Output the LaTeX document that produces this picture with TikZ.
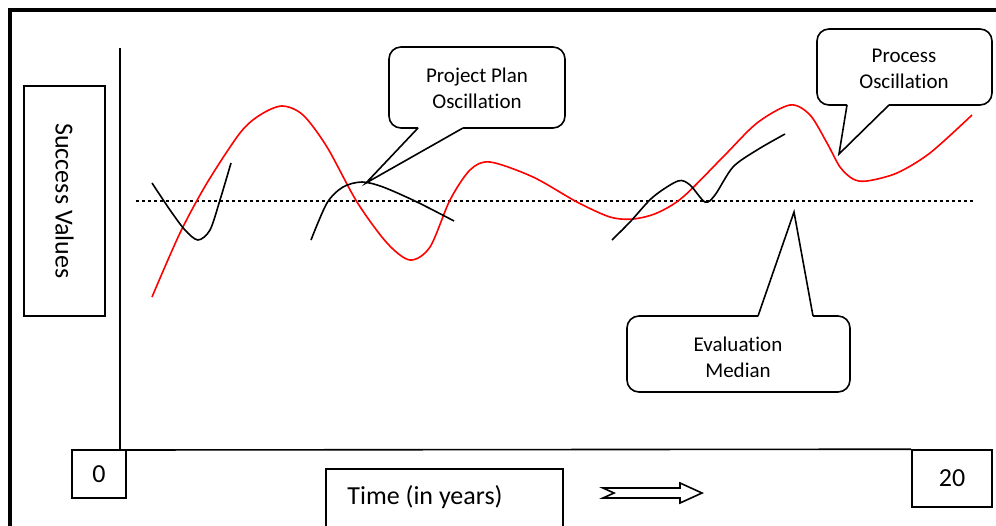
\documentclass[tikz,border=0pt]{standalone}
\usepackage{fontspec}
\setmainfont{Carlito}[Ligatures=NoCommon]
\begin{document}
\begin{tikzpicture}[x=1pt,y=-1pt,line join=miter,
  box/.style={draw,line width=1.6pt,inner sep=0pt,font=\fontsize{26}{31}\selectfont},
  calltext/.style={align=center,inner sep=0pt,font=\fontsize{21}{26}\selectfont},
  callline/.style={line width=1.6pt},
  wave/.style={line width=1.6pt,smooth,tension=0.5}]
\useasboundingbox (0,0) rectangle (996,525);
\clip (0,0) rectangle (996,525);
\draw[line width=4pt](10,545)--(10,10)--(1010,10);
% axes and labels
\node[box,rotate=-90,minimum width=230pt,minimum height=81pt] (succ) at (64.5,201) {Success Values};
\node[box,minimum width=54pt,minimum height=48pt] (n0) at (99,474) {0};
\node[box,minimum width=80pt,minimum height=57pt] (n20) at (952,478.5) {20};
\coordinate (ytop) at (120,48);
\coordinate (orig) at (120,450);
\draw[line width=1.6pt](ytop)--(orig)--(n20.north west);
\draw[line width=1.6pt](326,469) rectangle (563,545);
\node[font=\fontsize{26}{31}\selectfont] (time) at (425,497) {Time (in years)};
\draw[line width=1.6pt,fill=white](603,488)--(680,488)--(680,483)--(702,493)--(680,503)--(680,498)--(603,498)--(614,493)--cycle;
% median
\coordinate (medl) at (136,200.7);
\coordinate (medr) at (975,200.7);
\draw[line width=2pt,dash pattern=on 2.5pt off 3.5pt](medl)--(medr);
% red curve
\draw[wave,red] plot coordinates {(152,297) (180,233) (207,183) (240,133) (260,115) (282,106) (303,115) (327,147) (357,202) (387,243) (410,260) (430,247) (450,200) (470,170) (490,162) (533,177) (577,202) (610,217) (633,219) (657,213) (683,197) (723,157) (757,123) (790,105) (810,115) (827,143) (840,167) (853,179) (867,181) (897,173) (930,153) (972,115)};
% black curves
\draw[wave] plot coordinates {(152,183) (170,210) (185,230) (198,240) (210,230) (220,200) (231,163)};
\draw[wave] plot coordinates {(311,240) (327,203) (343,187) (362,182) (383,187) (417,202) (454,221)};
\draw[wave] plot coordinates {(612,240) (630,222) (653,197) (678,181) (690,185) (705,202) (715,195) (733,167) (757,150) (785,134)};
% callouts
\node[calltext] (plan) at (477,88) {Project Plan\\Oscillation};
\coordinate (plantip) at (366,183);
\draw[callline,rounded corners=12pt](418,128)--(389,128)--(389,47)--(565,47)--(565,128)--(463,128);
\draw[callline](463,128)--(plantip)--(418,128);
\node[calltext] (proc) at (904,69) {Process\\Oscillation};
\coordinate (proctip) at (839,154);
\draw[callline,rounded corners=12pt](847,105)--(817,105)--(817,29)--(992,29)--(992,105)--(889,105);
\draw[callline](889,105)--(proctip)--(847,105);
\node[calltext] (eval) at (738,357) {Evaluation\\Median};
\coordinate (evaltip) at (794,212);
\draw[callline,rounded corners=12pt](758,316)--(627,316)--(627,392)--(850,392)--(850,316)--(813,316);
\draw[callline](813,316)--(evaltip)--(758,316);
\end{tikzpicture}
\end{document}
